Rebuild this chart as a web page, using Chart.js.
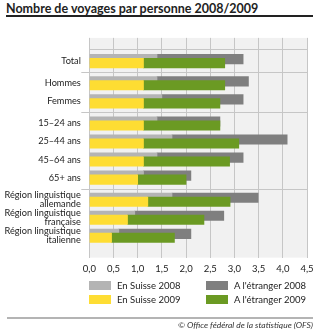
<!DOCTYPE html>
<html>
<head>
<meta charset="utf-8">
<script src="https://cdn.jsdelivr.net/npm/chart.js@4.4.1/dist/chart.umd.min.js"></script>
<style>
  body { margin: 0; width: 335px; height: 334px; position: relative; background: #fff; font-family: Lato, sans-serif; color: #222; }
  #title { position: absolute; left: 6px; top: 1px; font-weight: bold; font-size: 12.5px; white-space: nowrap; }
  #rule { position: absolute; left: 6px; top: 15px; width: 307px; height: 2px; background: #222; }
  #wrap { position: absolute; left: 0; top: 20px; width: 335px; height: 261px; }
  #legend { position: absolute; left: 89px; top: 280px; display: grid; grid-template-columns: 117px 110px; row-gap: 3px; font-size: 9.5px; }
  #legend div { display: flex; align-items: center; height: 11px; white-space: nowrap; }
  #legend span.box { display: inline-block; width: 22px; height: 9px; margin-right: 6px; }
  #footrule { position: absolute; left: 7px; top: 317px; width: 306px; height: 2px; background: #b4b4b4; }
  #foot { position: absolute; right: 22px; top: 320px; font-size: 8.5px; font-style: italic; color: #333; white-space: nowrap; }
</style>
</head>
<body>
<div id="title">Nombre de voyages par personne 2008/2009</div>
<div id="rule"></div>
<div id="wrap"><canvas id="chart"></canvas></div>
<div id="legend"></div>
<div id="footrule"></div>
<div id="foot">© Office fédéral de la statistique (OFS)</div>
<script>
const categories = ['Total', 'Hommes', 'Femmes', '15–24 ans', '25–44 ans', '45–64 ans', '65+ ans',
  ['Région linguistique', 'allemande'], ['Région linguistique', 'française'], ['Région linguistique', 'italienne']];
const groups = [0, 1, 1, 2, 2, 2, 2, 3, 3, 3];

const suisse2008 = [1.40, 1.40, 1.50, 1.40, 1.71, 1.40, 1.12, 1.71, 0.94, 0.61];
const etranger2008 = [1.78, 1.89, 1.68, 1.30, 2.38, 1.78, 0.98, 1.78, 1.84, 1.49];
const suisse2009 = [1.12, 1.12, 1.12, 1.12, 1.12, 1.12, 1.00, 1.21, 0.79, 0.46];
const etranger2009 = [1.68, 1.68, 1.58, 1.58, 1.97, 1.78, 1.00, 1.70, 1.58, 1.30];

// row positions on a linear axis, a little extra room between groups
const gap = 0.23;
const pos = categories.map((c, i) => i + gap * groups[i]);
const seps = [];
for (let i = 1; i < pos.length; i++) {
  if (groups[i] !== groups[i - 1]) seps.push((pos[i] + pos[i - 1]) / 2);
}
const yMin = pos[0] - 0.68;
const yMax = pos[pos.length - 1] + 0.6;
const shift = 0.11;

const pts = (vals, dy) => vals.map((v, i) => ({ x: v, y: pos[i] + dy }));

const bgPlugin = {
  id: 'plotBg',
  beforeDraw(chart) {
    const { ctx, chartArea: a } = chart;
    ctx.save();
    ctx.fillStyle = '#f1f1f1';
    ctx.fillRect(a.left, a.top, a.right - a.left, a.bottom - a.top);
    ctx.restore();
  },
  beforeDatasetsDraw(chart) {
    const { ctx, chartArea: a, scales } = chart;
    ctx.save();
    ctx.strokeStyle = '#c6c6c6';
    ctx.lineWidth = 1;
    [yMin, ...seps].forEach(v => {
      const y = Math.round(scales.y.getPixelForValue(v)) + 0.5;
      ctx.beginPath();
      ctx.moveTo(v === yMin ? a.left : a.left - 8, y);
      ctx.lineTo(a.right, y);
      ctx.stroke();
    });
    ctx.restore();
  }
};

const chart = new Chart(document.getElementById('chart'), {
  type: 'bar',
  data: {
    datasets: [
      { label: 'En Suisse 2008', data: pts(suisse2008, -shift), backgroundColor: '#b4b4b4', stack: '2008', order: 1 },
      { label: "A l'étranger 2008", data: pts(etranger2008, -shift), backgroundColor: '#7f7f7f', stack: '2008', order: 1 },
      { label: 'En Suisse 2009', data: pts(suisse2009, shift), backgroundColor: '#fedd33', stack: '2009', order: 0 },
      { label: "A l'étranger 2009", data: pts(etranger2009, shift), backgroundColor: '#6b9a23', stack: '2009', order: 0 }
    ]
  },
  options: {
    indexAxis: 'y',
    responsive: true,
    maintainAspectRatio: false,
    animation: false,
    grouped: false,
    barThickness: 9.5,
    borderWidth: 0,
    layout: { padding: { top: 0.9, right: 28, left: 0, bottom: 0 } },
    plugins: { legend: { display: false }, tooltip: { enabled: false } },
    scales: {
      x: {
        type: 'linear',
        min: 0,
        max: 4.5,
        stacked: true,
        border: { display: false },
        grid: { color: '#c6c6c6', drawTicks: false },
        ticks: {
          stepSize: 0.5,
          padding: 6,
          color: '#222',
          font: { family: 'Lato', size: 9.5 },
          callback: v => v.toFixed(1).replace('.', ',')
        }
      },
      y: {
        type: 'linear',
        reverse: true,
        min: yMin,
        max: yMax,
        border: { display: false },
        afterBuildTicks: s => { s.ticks = pos.map(v => ({ value: v })); },
        afterFit: s => { s.width = 89.3; },
        grid: { display: false, drawTicks: false },
        ticks: {
          autoSkip: false,
          padding: 8.5,
          color: '#222',
          font: { family: 'Lato', size: 9.2, lineHeight: 1.02 },
          callback: v => {
            const i = pos.findIndex(p => Math.abs(p - v) < 1e-6);
            return i >= 0 ? categories[i] : '';
          }
        }
      }
    }
  },
  plugins: [bgPlugin]
});

const legend = document.getElementById('legend');
chart.data.datasets.forEach(ds => {
  const item = document.createElement('div');
  item.innerHTML = '<span class="box" style="background:' + ds.backgroundColor + '"></span>' + ds.label;
  legend.appendChild(item);
});
</script>
</body>
</html>
